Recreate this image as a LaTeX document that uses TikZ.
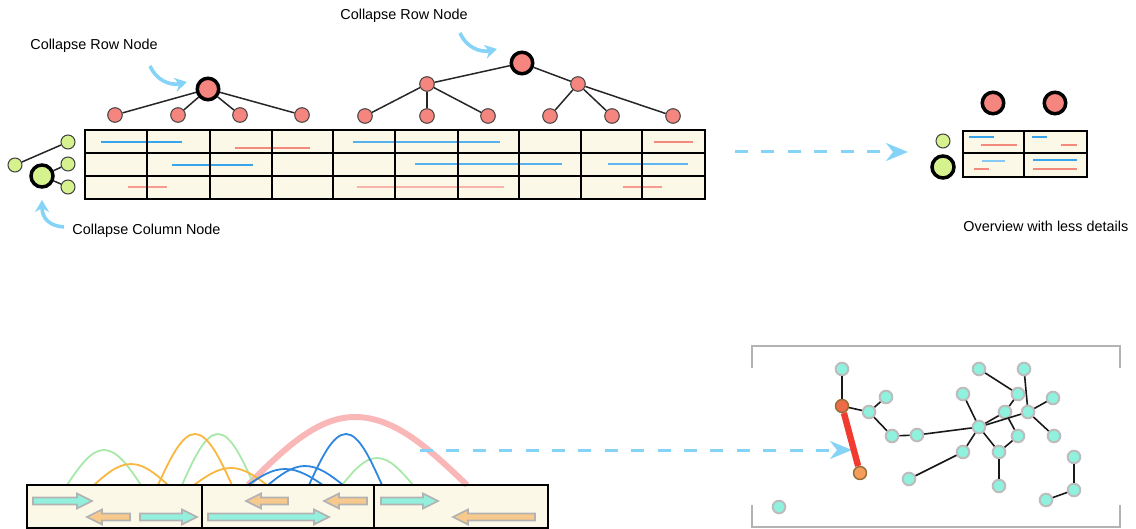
\documentclass[tikz,border=0pt]{standalone}
\usepackage{fontspec}
\setmainfont{Liberation Sans}
\usetikzlibrary{arrows.meta}
\definecolor{nred}{HTML}{F4857F}
\definecolor{ngreen}{HTML}{D5F28E}
\definecolor{cream}{HTML}{FCF8E8}
\definecolor{lblue}{HTML}{38A4EC}
\definecolor{lred}{HTML}{F48A7E}
\definecolor{skyb}{HTML}{85D3F7}
\definecolor{aqua}{HTML}{8EF2DE}
\definecolor{gborder}{HTML}{BDBDBD}
\definecolor{arcg}{HTML}{A8E8A8}
\definecolor{arco}{HTML}{F9B740}
\definecolor{arcb}{HTML}{2D86E0}
\definecolor{arcp}{HTML}{FAB7B8}
\definecolor{rededge}{HTML}{F23B30}
\definecolor{onode}{HTML}{EE6B47}
\definecolor{onodeb}{HTML}{F49C5C}
\definecolor{obord}{HTML}{946C36}
\definecolor{frameg}{HTML}{B3B3B3}
\definecolor{bcyan}{HTML}{93F0DD}
\definecolor{borange}{HTML}{F8C98C}
\definecolor{bgray}{HTML}{B3B3B3}
\newcommand\blkR[3]{\draw[blockarrow, fill=bcyan] (#1,{#3-3.5}) -- ({#2-15},{#3-3.5}) -- ({#2-15},{#3-7.5}) -- (#2,#3) -- ({#2-15},{#3+7.5}) -- ({#2-15},{#3+3.5}) -- (#1,{#3+3.5}) -- cycle;}
\newcommand\blkL[3]{\draw[blockarrow, fill=borange] (#2,{#3-3.5}) -- ({#1+15},{#3-3.5}) -- ({#1+15},{#3-7.5}) -- (#1,#3) -- ({#1+15},{#3+7.5}) -- ({#1+15},{#3+3.5}) -- (#2,{#3+3.5}) -- cycle;}
\tikzset{
  lbl/.style={anchor=west, inner sep=0pt, font=\fontsize{7.2}{8.6}\selectfont},
  rsmall/.style={circle, fill=nred, draw=black!75, line width=0.5pt, minimum size=7.3pt, inner sep=0pt},
  rbig/.style={circle, fill=nred, draw=black, line width=1.75pt, minimum size=10.75pt, inner sep=0pt},
  gsmall/.style={circle, fill=ngreen, draw=black!75, line width=0.5pt, minimum size=7pt, inner sep=0pt},
  gbig/.style={circle, fill=ngreen, draw=black, line width=1.75pt, minimum size=11pt, inner sep=0pt},
  tedge/.style={draw=black!85, line width=0.75pt},
  grid/.style={draw=black, line width=0.9pt},
  cline/.style={line width=1.1pt},
  hint/.style={draw=skyb, line width=1.8pt, -{Stealth[length=6pt,width=7pt]}},
  dasharrow/.style={draw=skyb, line width=1.5pt, dash pattern=on 6.5pt off 6.7pt, -{Stealth[length=11pt,width=9pt,inset=3.5pt]}},
  blockarrow/.style={draw=bgray, line width=0.8pt, line join=miter},
  gnode/.style={circle, fill=aqua, draw=gborder, line width=1pt, minimum size=6.3pt, inner sep=0pt},
  onode/.style={circle, draw=obord, line width=0.7pt, minimum size=6.5pt, inner sep=0pt},
  gedge/.style={draw=black!90, line width=0.8pt},
  arc/.style={line width=0.9pt},
}
\begin{document}
\begin{tikzpicture}[x=0.5pt, y=-0.5pt]
\useasboundingbox (0,0) rectangle (1136,529);

% ---------- top table ----------
\fill[cream] (85,130) rectangle (705,199);
\draw[cline, lblue] (101,142) -- (182,142);
\draw[cline, lred] (235,148) -- (310,148);
\draw[cline, lblue!85] (353,142) -- (500,142);
\draw[cline, lred] (654,142) -- (693,142);
\draw[cline, lblue] (172,165) -- (253,165);
\draw[cline, lblue!85] (415,164) -- (562,164);
\draw[cline, lblue!80] (608,164) -- (688,164);
\draw[cline, lred!85] (128,187) -- (167,187);
\draw[cline, lred!65] (357,187) -- (504,187);
\draw[cline, lred!85] (623,187) -- (662,187);
\draw[grid] (85,130) rectangle (705,199);
\foreach \x in {147,210,272,333,395,458,519,581,642} \draw[grid] (\x,130) -- (\x,199);
\foreach \y in {153,176} \draw[grid] (85,\y) -- (705,\y);

% ---------- left row tree ----------
\node[rbig] (r1) at (208,89) {};
\node[rsmall] (r1a) at (115,115) {};
\node[rsmall] (r1b) at (178,115) {};
\node[rsmall] (r1c) at (240,115) {};
\node[rsmall] (r1d) at (302,115) {};
\foreach \c in {r1a,r1b,r1c,r1d} \draw[tedge] (r1) -- (\c);
\node[lbl] (t1) at (30,46) {Collapse Row Node};
\coordinate (h1s) at (150,66);
\coordinate (h1e) at (187,82);
\draw[hint] (h1s) .. controls (156,80) and (170,86) .. (h1e);

% ---------- middle row tree ----------
\node[rbig] (r2) at (522,63) {};
\node[rsmall] (m1) at (427,84) {};
\node[rsmall] (m2) at (578,84) {};
\node[rsmall] (l1) at (365,116) {};
\node[rsmall] (l2) at (427,116) {};
\node[rsmall] (l3) at (488,116) {};
\node[rsmall] (l4) at (550,116) {};
\node[rsmall] (l5) at (612,116) {};
\node[rsmall] (l6) at (673,116) {};
\draw[tedge] (r2) -- (m1);
\draw[tedge] (r2) -- (m2);
\foreach \c in {l1,l2,l3} \draw[tedge] (m1) -- (\c);
\foreach \c in {l4,l5,l6} \draw[tedge] (m2) -- (\c);
\node[lbl] (t2) at (340,16) {Collapse Row Node};
\coordinate (h2s) at (460,33);
\coordinate (h2e) at (497,49);
\draw[hint] (h2s) .. controls (466,47) and (480,53) .. (h2e);

% ---------- column tree ----------
\node[gbig] (g0) at (42,176) {};
\node[gsmall] (g1) at (15,165) {};
\node[gsmall] (g2) at (68,142) {};
\node[gsmall] (g3) at (68,164) {};
\node[gsmall] (g4) at (68,187) {};
\draw[tedge] (g1) -- (g2);
\draw[tedge] (g0) -- (g3);
\draw[tedge] (g0) -- (g4);
\node[lbl] (t3) at (72,231) {Collapse Column Node};
\coordinate (h3s) at (64,227);
\coordinate (h3e) at (42,200);
\draw[hint] (h3s) .. controls (50,226) and (42,219) .. (h3e);

% ---------- top dashed arrow ----------
\coordinate (d1s) at (735,152);
\coordinate (d1e) at (908,152);
\draw[dasharrow] (d1s) -- (d1e);

% ---------- overview ----------
\node[rbig] (o1) at (993,103) {};
\node[rbig] (o2) at (1055,103) {};
\node[gsmall] (o3) at (943,141) {};
\node[gbig] (o4) at (943,167) {};
\fill[cream] (963,131) rectangle (1087,177);
\draw[line width=0.8pt, lblue] (969,137) -- (994,137);
\draw[line width=0.8pt, lred] (981,145) -- (1017,145);
\draw[line width=0.8pt, lblue] (1032,137) -- (1047,137);
\draw[line width=0.8pt, lred] (1061,145) -- (1077,145);
\draw[line width=1pt, lblue!60] (982,161) -- (1005,161);
\draw[line width=0.8pt, lred] (974,169) -- (989,169);
\draw[line width=0.8pt, lblue] (1033,160) -- (1077,160);
\draw[line width=0.8pt, lred] (1033,169) -- (1077,169);
\draw[grid] (963,131) rectangle (1087,177);
\draw[grid] (1024,131) -- (1024,177);
\draw[grid] (963,153) -- (1087,153);
\node[lbl] (t4) at (963,226) {Overview with less details};

% ---------- bottom-left track ----------
\fill[cream] (27,485) rectangle (548,528);
\draw[arcp, line width=3pt] (248,485) sin (355,417) cos (467,485);
\foreach \a/\m/\e/\p in {67/104/141/450, 182/218/254/434, 342/377/413/458}
  \draw[arc, arcg] (\a,485) sin (\m,\p) cos (\e,485);
\foreach \a/\m/\e/\p in {94/131/168/464, 158/195/232/434, 194/231/267/468}
  \draw[arc, arco] (\a,485) sin (\m,\p) cos (\e,485);
\foreach \a/\m/\e/\p in {248/285/323/469, 268/305/343/466, 309/346/382/434}
  \draw[arc, arcb] (\a,485) sin (\m,\p) cos (\e,485);
\blkR{33}{92}{501}
\blkR{140}{197}{517}
\blkR{208}{329}{517}
\blkR{381}{438}{501}
\blkL{87}{130}{517}
\blkL{246}{288}{501}
\blkL{324}{367}{501}
\blkL{453}{535}{517}
\draw[line width=1pt] (27,485) rectangle (548,528);
\draw[line width=1pt] (202,485) -- (202,528);
\draw[line width=1pt] (374,485) -- (374,528);

% ---------- bottom dashed arrow ----------
\coordinate (d2s) at (420,450);
\coordinate (d2e) at (852,450);
\draw[dasharrow] (d2s) -- (d2e);

% ---------- graph frame ----------
\draw[frameg, line width=1pt] (752,368) -- (752,346) -- (1120,346) -- (1120,368);
\draw[frameg, line width=1pt] (752,505) -- (752,527) -- (1120,527) -- (1120,505);

% ---------- graph ----------
\node[gnode] (n1) at (842,369) {};
\node[onode, fill=onode] (n2) at (842,406) {};
\node[onode, fill=onodeb] (n3) at (860,473) {};
\node[gnode] (n4) at (886,397) {};
\node[gnode] (n5) at (869,412) {};
\node[gnode] (n6) at (892,436) {};
\node[gnode] (n7) at (917,435) {};
\node[gnode] (hub) at (979,427) {};
\node[gnode] (n9) at (963,394) {};
\node[gnode] (n10) at (979,369) {};
\node[gnode] (n11) at (1024,369) {};
\node[gnode] (n12) at (1018,394) {};
\node[gnode] (n13) at (1005,412) {};
\node[gnode] (n14) at (1028,412) {};
\node[gnode] (n15) at (1053,398) {};
\node[gnode] (n16) at (1018,436) {};
\node[gnode] (n17) at (1054,436) {};
\node[gnode] (n18) at (963,452) {};
\node[gnode] (n19) at (999,452) {};
\node[gnode] (n20) at (999,486) {};
\node[gnode] (n21) at (909,479) {};
\node[gnode] (n22) at (1074,457) {};
\node[gnode] (n23) at (1074,490) {};
\node[gnode] (n24) at (1046,500) {};
\node[gnode] (n25) at (779,507) {};
\draw[rededge, line width=3.2pt] (n2) -- (n3);
\foreach \u/\v in {n1/n2, n2/n5, n5/n4, n5/n6, n6/n7, n7/hub, n9/hub, n10/n12, n12/n13, n13/hub, hub/n14, n11/n14, n14/n15, n14/n17, n13/n16, n16/n19, hub/n19, n19/n20, hub/n18, n18/n21, n22/n23, n23/n24}
  \draw[gedge] (\u) -- (\v);
\end{tikzpicture}
\end{document}
